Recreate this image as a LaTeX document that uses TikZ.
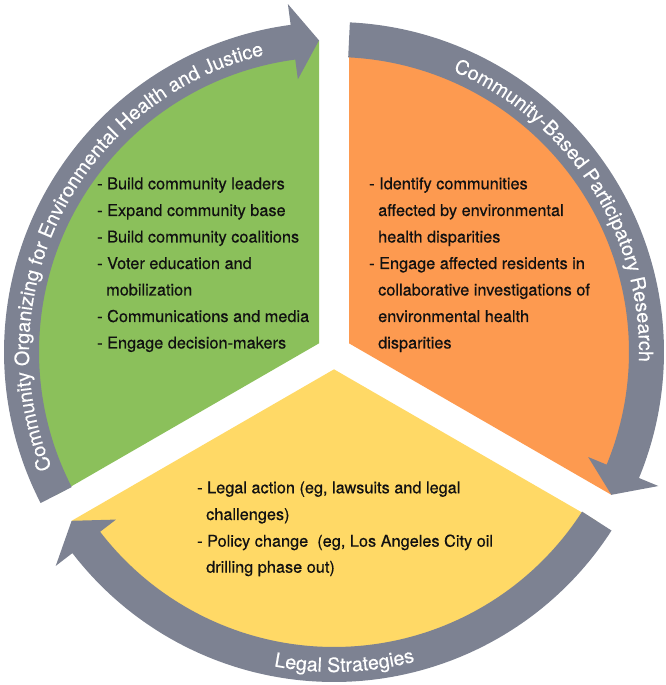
\documentclass[tikz,border=0pt]{standalone}
\usepackage{fontspec}
\setmainfont{TeX Gyre Heros}
\newfontfamily\bodyfont[FakeBold=0.45]{TeX Gyre Heros}
\newfontfamily\labelfont[FakeBold=0.25]{TeX Gyre Heros}
\usetikzlibrary{decorations.text,calc}
\definecolor{cgreen}{HTML}{8BC05B}
\definecolor{corange}{HTML}{FD9A50}
\definecolor{cyellow}{HTML}{FFD966}
\definecolor{cgray}{HTML}{7D8292}
\definecolor{ctext}{HTML}{111111}
\newcommand\curvefont{\labelfont\fontsize{19.7}{19.7}\selectfont}
% band with arrow: #1 tail angle, #2 arrowhead back angle, #3 tip angle
\newcommand\bandarrow[3]{%
  \fill[cgray] ($(C)+(#1:330)$) arc[start angle=#1, end angle=#2, radius=330]
    -- ($(C)+(#2:351)$) -- ($(C)+(#3:312)$) -- ($(C)+(#2:275)$)
    -- ($(C)+(#2:295)$) arc[start angle=#2, end angle=#1, radius=295] -- cycle;}
\tikzset{
  item/.style={anchor=base west, inner sep=0pt, text=ctext, font=\bodyfont\fontsize{16.3}{16.3}\selectfont},
  curved/.style={decorate, decoration={text along path, text align=center, text color=white, text={|\curvefont|#1}}}
}
\begin{document}
\begin{tikzpicture}[x=1pt,y=1pt]
\useasboundingbox (0,0) rectangle (666,685);
\coordinate (C) at (334,333);
% wedges
\fill[cgreen] ($(C)+(150:17.32)$) -- ($(C)+(92.756:312)$) arc[start angle=92.756, end angle=207.244, radius=312] -- cycle;
\fill[corange] ($(C)+(30:17.32)$) -- ($(C)+(87.244:312)$) arc[start angle=87.244, end angle=-27.244, radius=312] -- cycle;
\fill[cyellow] ($(C)+(270:17.32)$) -- ($(C)+(-32.756:312)$) arc[start angle=-32.756, end angle=-147.244, radius=312] -- cycle;
% bands with arrows
\bandarrow{207.244}{97.55}{92.756}
\bandarrow{87.244}{-22.45}{-27.244}
\bandarrow{-32.756}{-142.45}{-147.244}
% curved labels
\path[curved={Community Organizing for Environmental Health and Justice}] ($(C)+(212.8:305)$) arc[start angle=212.8, end angle=92.8, radius=305];
\path[curved={Community-Based Participatory Research}] ($(C)+(92.6:305)$) arc[start angle=92.6, end angle=-27.4, radius=305];
\path[curved={Legal Strategies}] ($(C)+(231.9:320)$) arc[start angle=231.9, end angle=311.9, radius=320];
% green list
\node[item] (g1) at (97,495.7) {- Build community leaders};
\node[item] (g2) at (97,469) {- Expand community base};
\node[item] (g3) at (97,442.5) {- Build community coalitions};
\node[item] (g4) at (97,416) {- Voter education and};
\node[item] (g5) at (106,389.5) {mobilization};
\node[item] (g6) at (97,363) {- Communications and media};
\node[item] (g7) at (97,336.5) {- Engage decision-makers};
% orange list
\node[item] (o1) at (369,495.7) {- Identify communities};
\node[item] (o2) at (378,469) {affected by environmental};
\node[item] (o3) at (378,442.5) {health disparities};
\node[item] (o4) at (369,416) {- Engage affected residents in};
\node[item] (o5) at (378,389.5) {collaborative investigations of};
\node[item] (o6) at (378,363) {environmental health};
\node[item] (o7) at (378,336.5) {disparities};
% yellow list
\node[item] (y1) at (197,191.7) {- Legal action (eg, lawsuits and legal};
\node[item] (y2) at (206,165) {challenges)};
\node[item] (y3) at (197,138.3) {- Policy change\ \ (eg, Los Angeles City oil};
\node[item] (y4) at (206,112.3) {drilling phase out)};
\end{tikzpicture}
\end{document}
